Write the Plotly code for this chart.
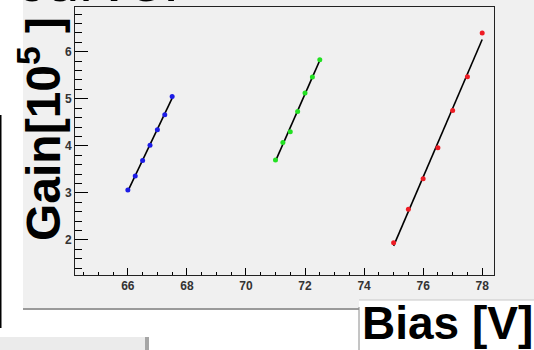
import numpy as np
import plotly.graph_objects as go

# Gain vs bias voltage for three devices
bias_blue = [66.0, 66.25, 66.5, 66.75, 67.0, 67.25, 67.5]
gain_blue = [3.06, 3.36, 3.69, 4.01, 4.34, 4.66, 5.05]

bias_green = [71.0, 71.25, 71.5, 71.75, 72.0, 72.25, 72.5]
gain_green = [3.70, 4.07, 4.30, 4.73, 5.12, 5.46, 5.83]

bias_red = [75.0, 75.5, 76.0, 76.5, 77.0, 77.5, 78.0]
gain_red = [1.94, 2.65, 3.30, 3.96, 4.75, 5.47, 6.40]

x_ticks = [66, 68, 70, 72, 74, 76, 78]
y_ticks = [2, 3, 4, 5, 6]

W, H = 534, 350
L, R, T, B = 75, 40, 7, 75


def px(x):
    return (x - L) / (W - L - R)


def py(y):
    return (H - B - y) / (H - T - B)


fig = go.Figure()

series = [
    (bias_blue, gain_blue, "#1c1ce6"),
    (bias_green, gain_green, "#22e022"),
    (bias_red, gain_red, "#ee1c24"),
]

# linear fits drawn under the points
for xs, ys, col in series:
    k, b = np.polyfit(xs, ys, 1)
    xf = np.array([min(xs), max(xs)])
    fig.add_trace(go.Scatter(x=xf, y=k * xf + b, mode="lines",
                             line=dict(color="black", width=1.6),
                             showlegend=False, hoverinfo="skip"))
for xs, ys, col in series:
    fig.add_trace(go.Scatter(x=xs, y=ys, mode="markers",
                             marker=dict(color=col, size=5),
                             showlegend=False))

tickfont = dict(family="Liberation Sans", size=12, color="#333333", weight="bold")

fig.update_xaxes(
    range=[64.21, 78.4], tickvals=x_ticks, ticktext=[str(v) for v in x_ticks],
    ticks="inside", ticklen=7, tickwidth=1, tickcolor="black",
    minor=dict(dtick=0.5, ticks="inside", ticklen=3.5, tickcolor="black", tickwidth=1),
    showline=True, linecolor="#222222", linewidth=1, mirror=True,
    showgrid=False, zeroline=False, tickfont=tickfont,
)
fig.update_yaxes(
    range=[1.255, 6.95], tickvals=y_ticks, ticktext=[str(v) for v in y_ticks],
    ticks="inside", ticklen=13, tickwidth=1, tickcolor="black",
    minor=dict(dtick=0.2, ticks="inside", ticklen=7, tickcolor="black", tickwidth=1),
    showline=True, linecolor="#222222", linewidth=1, mirror=True,
    showgrid=False, zeroline=False, tickfont=tickfont,
)

shapes = [
    # grey canvas behind the frame
    dict(type="rect", xref="paper", yref="paper", layer="below",
         x0=px(23), x1=px(W + 5), y0=py(309), y1=py(-20),
         fillcolor="#f0f0f0", line=dict(width=0)),
    # shadow under canvas
    dict(type="line", xref="paper", yref="paper", layer="above",
         x0=px(23), x1=px(359), y0=py(309), y1=py(309),
         line=dict(color="#9a9a9a", width=2)),
    # white label box on the lower right
    dict(type="rect", xref="paper", yref="paper", layer="above",
         x0=px(359), x1=px(W + 5), y0=py(H + 5), y1=py(300),
         fillcolor="white", line=dict(width=0)),
    dict(type="line", xref="paper", yref="paper", layer="above",
         x0=px(359), x1=px(359), y0=py(307), y1=py(H + 5),
         line=dict(color="#8a8a8a", width=1)),
    dict(type="line", xref="paper", yref="paper", layer="above",
         x0=px(359), x1=px(W + 5), y0=py(300), y1=py(300),
         line=dict(color="#c8c8c8", width=1)),
    # left edge line
    dict(type="line", xref="paper", yref="paper", layer="above",
         x0=px(0.5), x1=px(0.5), y0=py(115), y1=py(328),
         line=dict(color="black", width=2)),
    # small panel at bottom left
    dict(type="rect", xref="paper", yref="paper", layer="above",
         x0=px(-2), x1=px(145), y0=py(H + 5), y1=py(337),
         fillcolor="#ebebeb", line=dict(width=0)),
    dict(type="rect", xref="paper", yref="paper", layer="above",
         x0=px(145), x1=px(149), y0=py(H + 5), y1=py(337),
         fillcolor="#a6a6a6", line=dict(width=0)),
]

annotations = [
    dict(text="curve.", xref="paper", yref="paper", x=px(14), y=py(16),
         xanchor="left", yanchor="bottom", showarrow=False,
         font=dict(family="Liberation Sans", size=60, color="black")),
    dict(text="Gain[10<sup>5</sup> ]", xref="paper", yref="paper",
         x=px(40), y=py(129), xanchor="center", yanchor="middle",
         textangle=-90, showarrow=False,
         font=dict(family="Liberation Sans", size=48, color="black", weight="bold")),
    dict(text="Bias [V]", xref="paper", yref="paper",
         x=px(447), y=py(323), xanchor="center", yanchor="middle",
         showarrow=False,
         font=dict(family="Liberation Sans", size=46, color="black", weight="bold")),
]

fig.update_layout(
    width=W, height=H,
    margin=dict(l=L, r=R, t=T, b=B, pad=0),
    paper_bgcolor="white", plot_bgcolor="#f0f0f0",
    shapes=shapes, annotations=annotations,
    showlegend=False,
)

fig.write_html("out.html")
